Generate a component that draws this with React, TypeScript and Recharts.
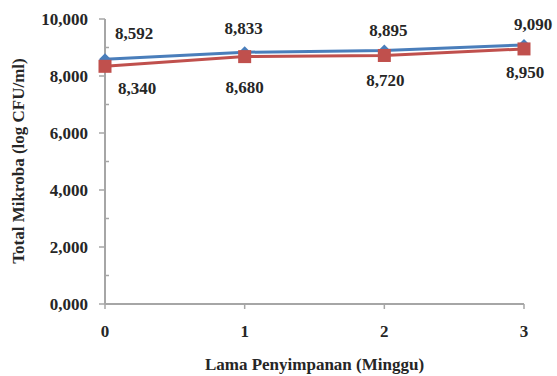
import React from "react";
import { LineChart, Line, XAxis, YAxis, LabelList } from "recharts";

// Storage time in weeks
const weeks = [0, 1, 2, 3];
// Total microbes (log CFU/ml) for the two treatments
const seriesBlue = [8.592, 8.833, 8.895, 9.09];
const seriesRed = [8.34, 8.68, 8.72, 8.95];
// Major ticks are labelled, odd values get a short inner mark
const yTicks = [0, 1, 2, 3, 4, 5, 6, 7, 8, 9, 10];

// Label nudges per point (pixels)
const blueLabelDx = [29, -1, 4, 9];
const blueLabelDy = [-26, -24, -20, -20];
const redLabelDx = [32, 0, 1, 1];
const redLabelDy = [22, 31, 25, 24];

const data = weeks.map((w, i) => ({ week: w, a: seriesBlue[i], b: seriesRed[i] }));

const FONT = "'Liberation Serif', 'Times New Roman', serif";
const TEXT = "#262626";
const AXIS = "#a6a6a6";
const BLUE = "#4a7ebb";
const RED = "#c0504d";

const fmt = (v: number) => v.toFixed(3).replace(".", ",");

const YTick = (props: any) => {
  const { x, y, payload } = props;
  const axisX = x + 17;
  if (payload.value % 2 === 1) {
    return <line x1={axisX} x2={axisX + 4} y1={y} y2={y} stroke={AXIS} strokeWidth={1.5} />;
  }
  return (
    <g>
      <line x1={axisX - 6} x2={axisX} y1={y} y2={y} stroke={AXIS} strokeWidth={1.5} />
      <text x={x} y={y} textAnchor="end" dominantBaseline="central" fontFamily={FONT}
        fontWeight="bold" fontSize={17} fill={TEXT}>
        {fmt(payload.value)}
      </text>
    </g>
  );
};

const XTick = (props: any) => {
  const { x, y, payload } = props;
  return (
    <text x={x} y={y} dy={10} textAnchor="middle" dominantBaseline="central" fontFamily={FONT}
      fontWeight="bold" fontSize={17} fill={TEXT}>
      {payload.value}
    </text>
  );
};

const makeLabel = (dxs: number[], dys: number[]) => (props: any) => {
  const { x, y, value, index } = props;
  return (
    <text x={x + dxs[index]} y={y + dys[index]} textAnchor="middle" dominantBaseline="central"
      fontFamily={FONT} fontWeight="bold" fontSize={17} fill={TEXT}>
      {fmt(value)}
    </text>
  );
};

const Diamond = (props: any) => {
  const { cx, cy } = props;
  const r = 6;
  return <path d={`M${cx},${cy - r}L${cx + r},${cy}L${cx},${cy + r}L${cx - r},${cy}Z`} fill={BLUE} />;
};

const Square = (props: any) => {
  const { cx, cy } = props;
  const s = 13;
  return <rect x={cx - s / 2} y={cy - s / 2} width={s} height={s} fill={RED} />;
};

const YTitle = () => {
  const cx = 18;
  const cy = 161;
  return (
    <text x={cx} y={cy} transform={`rotate(-90, ${cx}, ${cy})`} textAnchor="middle"
      dominantBaseline="central" fontFamily={FONT} fontWeight="bold" fontSize={17} fill={TEXT}>
      Total Mikroba (log CFU/ml)
    </text>
  );
};

export default function App() {
  return (
    <div style={{ position: "absolute", left: 0, top: 0, width: 557, height: 376, background: "#fff" }}>
      <LineChart width={557} height={376} data={data} margin={{ top: 19, right: 33, bottom: 0, left: 0 }}>
        <XAxis
          dataKey="week"
          type="number"
          domain={[0, 3]}
          ticks={weeks}
          height={72}
          axisLine={{ stroke: AXIS, strokeWidth: 2 }}
          tickLine={{ stroke: AXIS, strokeWidth: 1.5 }}
          tickSize={5}
          tickMargin={12}
          tick={<XTick />}
          label={{
            value: "Lama Penyimpanan (Minggu)",
            position: "insideBottom",
            offset: 6,
            fontFamily: FONT,
            fontWeight: "bold",
            fontSize: 17,
            fill: TEXT,
          }}
        />
        <YAxis
          domain={[0, 10]}
          ticks={yTicks}
          interval={0}
          width={105}
          axisLine={{ stroke: AXIS, strokeWidth: 2 }}
          tickLine={false}
          tickSize={6}
          tickMargin={11}
          tick={<YTick />}
          label={<YTitle />}
        />
        <Line type="linear" dataKey="a" stroke={BLUE} strokeWidth={3} dot={<Diamond />}
          isAnimationActive={false}>
          <LabelList dataKey="a" content={makeLabel(blueLabelDx, blueLabelDy)} />
        </Line>
        <Line type="linear" dataKey="b" stroke={RED} strokeWidth={3} dot={<Square />}
          isAnimationActive={false}>
          <LabelList dataKey="b" content={makeLabel(redLabelDx, redLabelDy)} />
        </Line>
      </LineChart>
    </div>
  );
}
